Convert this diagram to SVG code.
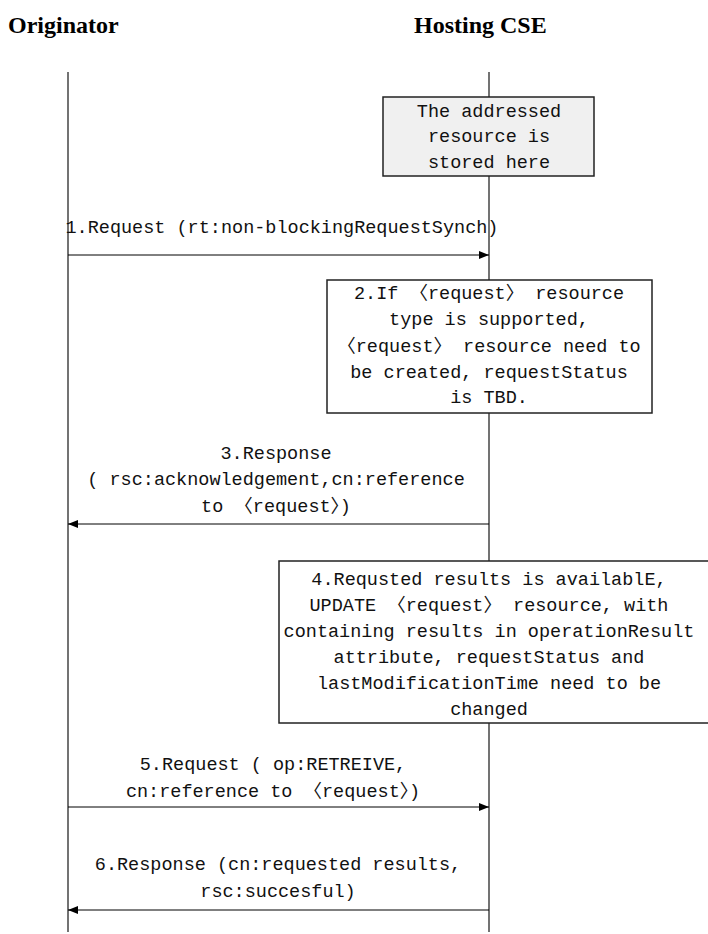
<svg xmlns="http://www.w3.org/2000/svg" width="708" height="934" viewBox="0 0 708 934">
  <style>
    .head { font-family: "Liberation Serif", "Times New Roman", serif; font-weight: bold; font-size: 24px; fill: #000; }
    .lbl { font-family: "Liberation Mono", "Noto Sans CJK SC", monospace; font-size: 18.5px; fill: #111; text-anchor: middle; }
    .life { stroke: #444; stroke-width: 1.5; fill: none; }
    .msg { stroke: #000; stroke-width: 1; fill: none; marker-end: url(#arrow); }
    .box { stroke: #222; stroke-width: 1.5; fill: #fff; }
    .note { stroke: #222; stroke-width: 1.5; fill: #f0f0f0; }
  </style>
  <defs>
    <marker id="arrow" viewBox="0 0 10 8" refX="10" refY="4" markerWidth="10" markerHeight="8" markerUnits="userSpaceOnUse" orient="auto">
      <path d="M0,0 L10,4 L0,8 Z" fill="#000"/>
    </marker>
  </defs>
  <rect width="708" height="934" fill="#fff"/>

  <!-- participant headings -->
  <g id="originator">
    <text class="head" x="8" y="33">Originator</text>
  </g>
  <g id="hosting-cse">
    <text class="head" x="414" y="33">Hosting CSE</text>
  </g>

  <!-- lifelines -->
  <g id="lifelines">
    <line class="life" x1="68" y1="72" x2="68" y2="932"/>
    <line class="life" x1="489" y1="72" x2="489" y2="932"/>
  </g>

  <!-- messages -->
  <g id="connectors">
    <line class="msg" x1="68" y1="255" x2="489" y2="255"/>
    <line class="msg" x1="489" y1="524" x2="68" y2="524"/>
    <line class="msg" x1="68" y1="807" x2="489" y2="807"/>
    <line class="msg" x1="489" y1="910" x2="68" y2="910"/>
  </g>

  <g id="note-stored">
    <rect class="note" x="383" y="97" width="211" height="79"/>
    <text class="lbl" x="489" y="117">The addressed</text>
    <text class="lbl" x="489" y="142">resource is</text>
    <text class="lbl" x="489" y="168">stored here</text>
  </g>

  <g id="msg-1">
    <text class="lbl" x="282" y="233">1.Request (rt:non-blockingRequestSynch)</text>
  </g>

  <g id="step-2">
    <rect class="box" x="327" y="280" width="325" height="133"/>
    <text class="lbl" x="489" y="299">2.If 〈request〉 resource</text>
    <text class="lbl" x="489" y="325">type is supported,</text>
    <text class="lbl" x="489" y="352">〈request〉 resource need to</text>
    <text class="lbl" x="489" y="378">be created, requestStatus</text>
    <text class="lbl" x="489" y="403">is TBD.</text>
  </g>

  <g id="msg-3">
    <text class="lbl" x="276" y="459">3.Response</text>
    <text class="lbl" x="276" y="485">( rsc:acknowledgement,cn:reference</text>
    <text class="lbl" x="276" y="512">to 〈request〉)</text>
  </g>

  <g id="step-4">
    <rect class="box" x="279" y="561" width="440" height="162"/>
    <text class="lbl" x="489" y="585">4.Requsted results is availablE,</text>
    <text class="lbl" x="489" y="611">UPDATE 〈request〉 resource, with</text>
    <text class="lbl" x="489" y="637">containing results in operationResult</text>
    <text class="lbl" x="489" y="663">attribute, requestStatus and</text>
    <text class="lbl" x="489" y="689">lastModificationTime need to be</text>
    <text class="lbl" x="489" y="715">changed</text>
  </g>

  <g id="msg-5">
    <text class="lbl" x="273" y="770">5.Request ( op:RETREIVE,</text>
    <text class="lbl" x="273" y="797">cn:reference to 〈request〉)</text>
  </g>

  <g id="msg-6">
    <text class="lbl" x="278" y="870">6.Response (cn:requested results,</text>
    <text class="lbl" x="278" y="897">rsc:succesful)</text>
  </g>
</svg>
